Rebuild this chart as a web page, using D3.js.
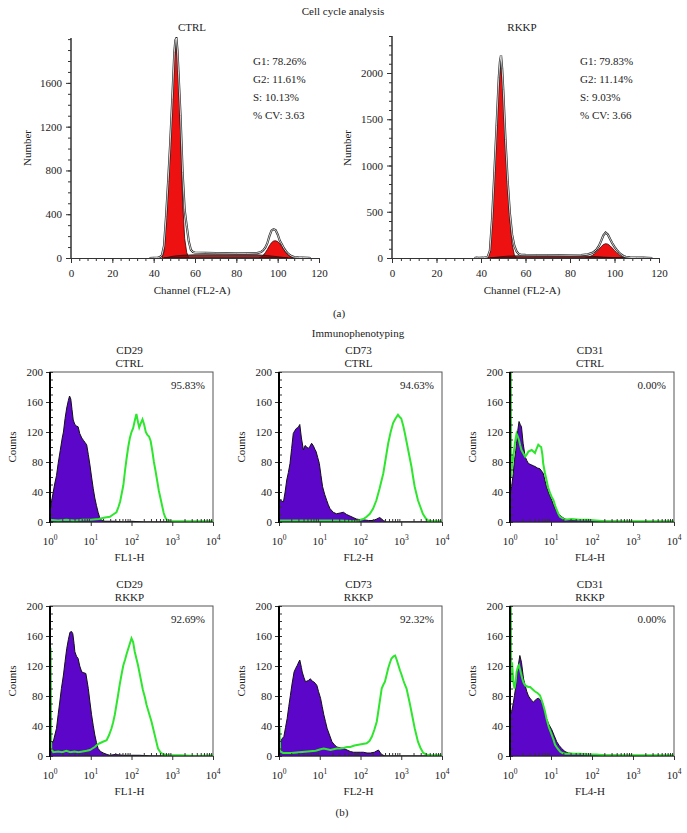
<!DOCTYPE html>
<html><head><meta charset="utf-8">
<script src="https://cdn.jsdelivr.net/npm/d3@7"></script>
<style>
body{margin:0;background:#fff}
svg{display:block}
text{font-family:"Liberation Serif","DejaVu Serif",serif;fill:#222}
</style>
</head><body>
<svg id="c" width="687" height="833"></svg>
<script>
// ---------------- Cell cycle data: [channel, count] ----------------
const ctrlHist = [[38,0],[40,2],[42,4],[43,8],[44,25],[45,110],[46,380],[47,700],[48,1050],[49,1450],[50,1880],[50.5,1990],[51,2010],[51.5,1900],[52,1700],[53,1300],[54,780],[55,440],[56,290],[57,150],[58,75],[59,55],[60,50],[65,47],[70,45],[75,44],[80,43],[85,42],[90,45],[92,55],[93,70],[94,95],[95,135],[96,200],[97,250],[98,263],[99,255],[100,215],[101,160],[102,125],[103,90],[104,62],[105,40],[106,25],[107,15],[108,8],[110,5],[112,4],[115,2],[116,0]];
const ctrlG1 = [[44,0],[45,60],[46,320],[47,640],[48,1000],[49,1420],[50,1820],[51,1990],[52,1720],[53,1150],[54,520],[55,180],[56,50],[57,0]];
const ctrlS = [[45,0],[50,18],[55,26],[60,30],[70,30],[80,30],[90,30],[95,22],[100,12],[105,0]];
const ctrlG2 = [[91,0],[92,10],[93,25],[94,48],[95,78],[96,112],[97,140],[98,155],[99,158],[100,150],[101,132],[102,106],[103,76],[104,50],[105,30],[106,15],[107,5],[108,0]];
const ctrlStats = ["G1: 78.26%","G2: 11.61%","S: 10.13%","% CV: 3.63"];

const rkkpHist = [[37,0],[38,4],[39,2],[41,3],[43,10],[44,80],[45,430],[46,920],[47,1430],[48,1950],[48.5,2120],[49,2190],[49.5,2050],[50,1820],[51,1280],[52,830],[53,480],[54,250],[55,130],[56,70],[57,42],[58,35],[60,33],[65,32],[70,32],[75,31],[80,30],[85,32],[88,40],[90,55],[91,70],[92,95],[93,130],[94,185],[95,245],[96,275],[97,255],[98,205],[99,160],[100,120],[101,88],[102,60],[103,38],[104,22],[105,12],[107,6],[110,4],[113,3],[115,2],[117,0]];
const rkkpG1 = [[43,0],[44,60],[45,420],[46,900],[47,1400],[48,1900],[49,2100],[50,1780],[51,1230],[52,780],[53,420],[54,150],[55,30],[56,0]];
const rkkpS = [[44,0],[48,12],[52,20],[56,24],[70,24],[85,24],[90,18],[95,10],[100,4],[104,0]];
const rkkpG2 = [[87,0],[88,6],[89,15],[90,28],[91,45],[92,68],[93,95],[94,122],[95,145],[96,155],[97,150],[98,132],[99,108],[100,82],[101,58],[102,36],[103,18],[104,6],[105,0]];
const rkkpStats = ["G1: 79.83%","G2: 11.14%","S: 9.03%","% CV: 3.66"];

const ctrlYTicks = [0,400,800,1200,1600];
const rkkpYTicks = [0,500,1000,1500,2000];
const channelTicks = [0,20,40,60,80,100,120];

// ---------------- Immunophenotyping data: [log10 fluorescence, counts] ----------------
const cd29CtrlIso = [[0,110],[0.01,18],[0.04,28],[0.08,40],[0.12,52],[0.16,62],[0.2,78],[0.25,95],[0.3,112],[0.33,120],[0.37,138],[0.41,152],[0.45,162],[0.48,168],[0.51,164],[0.54,150],[0.57,136],[0.61,130],[0.65,128],[0.69,127],[0.73,118],[0.78,112],[0.82,109],[0.86,106],[0.9,103],[0.94,90],[0.98,76],[1.02,60],[1.06,45],[1.1,32],[1.14,22],[1.18,13],[1.22,6],[1.27,2],[1.35,1],[1.6,1],[1.8,0],[2.0,1],[2.3,0],[4,0]];
const cd29CtrlAb = [[0,3],[0.2,2],[0.4,3],[0.6,2],[0.8,3],[1.0,3],[1.2,4],[1.35,6],[1.47,7],[1.55,10],[1.63,13],[1.68,20],[1.72,27],[1.76,38],[1.8,49],[1.84,68],[1.88,85],[1.92,100],[1.96,112],[2.0,120],[2.04,125],[2.08,135],[2.12,144],[2.16,133],[2.19,126],[2.23,132],[2.27,137],[2.31,130],[2.35,120],[2.39,116],[2.43,114],[2.47,108],[2.51,95],[2.55,80],[2.59,68],[2.63,55],[2.67,42],[2.71,32],[2.75,22],[2.79,12],[2.83,6],[2.87,3],[2.95,1],[3.2,1],[3.6,1],[4,1]];
const cd73CtrlIso = [[0,109],[0.01,31],[0.06,28],[0.11,27],[0.15,40],[0.19,56],[0.23,66],[0.27,78],[0.31,98],[0.35,118],[0.39,122],[0.43,125],[0.47,126],[0.51,130],[0.55,112],[0.6,96],[0.64,102],[0.68,100],[0.72,98],[0.76,101],[0.8,105],[0.84,102],[0.88,97],[0.91,94],[0.95,86],[0.99,78],[1.03,62],[1.07,47],[1.12,37],[1.17,29],[1.21,23],[1.25,18],[1.33,13],[1.41,11],[1.5,12],[1.58,13],[1.66,10],[1.74,8],[1.82,6],[1.9,4],[2.0,3],[2.07,3],[2.2,2],[2.31,2],[2.4,4],[2.47,6],[2.52,4],[2.56,2],[2.64,0],[4,0]];
const cd73CtrlAb = [[0,2],[0.5,2],[1.0,2],[1.5,2],[1.9,1],[2.0,3],[2.07,4],[2.15,7],[2.23,11],[2.31,18],[2.39,29],[2.47,45],[2.56,65],[2.62,85],[2.68,105],[2.74,120],[2.8,132],[2.86,138],[2.92,143],[2.96,140],[3.0,138],[3.05,128],[3.09,118],[3.13,107],[3.17,96],[3.21,85],[3.25,74],[3.29,60],[3.33,47],[3.37,38],[3.41,29],[3.47,20],[3.53,11],[3.6,5],[3.66,2],[3.78,1],[4,1]];
const cd31CtrlIso = [[0,183],[0.01,40],[0.04,47],[0.08,65],[0.11,83],[0.14,95],[0.16,105],[0.19,122],[0.22,134],[0.25,130],[0.28,127],[0.32,105],[0.37,87],[0.41,82],[0.45,78],[0.49,77],[0.53,76],[0.57,75],[0.61,74],[0.67,72],[0.73,71],[0.77,68],[0.81,65],[0.85,56],[0.89,47],[0.95,38],[1.02,29],[1.06,23],[1.1,18],[1.14,14],[1.18,11],[1.26,7],[1.34,4],[1.5,2],[1.7,3],[1.91,2],[2.1,2],[2.32,1],[2.6,1],[3,0],[4,0]];
const cd31CtrlAb = [[0,205],[0.02,205],[0.03,60],[0.05,75],[0.08,87],[0.12,105],[0.16,118],[0.19,114],[0.22,109],[0.25,102],[0.28,96],[0.32,92],[0.37,87],[0.41,90],[0.45,94],[0.49,95],[0.53,96],[0.57,94],[0.61,92],[0.65,98],[0.69,103],[0.73,101],[0.76,100],[0.79,90],[0.81,78],[0.85,66],[0.89,56],[0.93,46],[0.98,38],[1.02,33],[1.06,29],[1.1,22],[1.14,16],[1.18,11],[1.22,7],[1.28,5],[1.34,3],[1.5,4],[1.7,3],[1.91,3],[2.1,2],[2.32,1],[2.6,1],[3,1],[3.5,1],[4,1]];
const cd29RkkpIso = [[0,15],[0.04,17],[0.08,19],[0.12,28],[0.16,37],[0.2,55],[0.24,72],[0.28,90],[0.33,108],[0.37,126],[0.41,143],[0.45,155],[0.49,165],[0.53,166],[0.56,163],[0.59,150],[0.61,139],[0.65,133],[0.69,130],[0.73,120],[0.78,112],[0.83,111],[0.88,110],[0.91,100],[0.94,90],[0.98,72],[1.02,55],[1.06,41],[1.1,28],[1.14,18],[1.18,10],[1.24,6],[1.31,4],[1.4,2],[1.47,1],[1.6,2],[1.8,1],[2.0,1],[2.2,1],[2.5,0],[4,0]];
const cd29RkkpAb = [[0,143],[0.015,143],[0.03,10],[0.08,5],[0.2,6],[0.3,5],[0.4,7],[0.5,5],[0.6,6],[0.7,5],[0.8,6],[0.9,7],[0.98,8],[1.04,10],[1.1,12],[1.16,15],[1.22,17],[1.3,19],[1.39,21],[1.45,28],[1.51,37],[1.55,45],[1.59,55],[1.63,68],[1.67,81],[1.71,95],[1.76,110],[1.8,121],[1.84,128],[1.88,136],[1.92,143],[1.96,150],[2.0,157],[2.04,152],[2.08,139],[2.12,130],[2.16,121],[2.2,110],[2.24,99],[2.28,88],[2.33,78],[2.37,68],[2.43,57],[2.49,46],[2.53,37],[2.57,28],[2.61,19],[2.65,10],[2.71,5],[2.78,2],[2.94,1],[3.2,1],[3.6,0],[4,1]];
const cd73RkkpIso = [[0,110],[0.01,19],[0.06,22],[0.12,26],[0.16,38],[0.2,50],[0.24,66],[0.28,81],[0.32,96],[0.37,112],[0.41,117],[0.45,121],[0.49,126],[0.51,128],[0.55,118],[0.57,112],[0.61,105],[0.65,99],[0.69,100],[0.73,101],[0.77,103],[0.81,100],[0.85,99],[0.89,97],[0.93,94],[0.97,86],[1.02,77],[1.06,66],[1.1,55],[1.14,46],[1.18,37],[1.24,28],[1.3,19],[1.36,15],[1.42,12],[1.5,11],[1.59,10],[1.67,8],[1.75,6],[1.83,5],[1.91,5],[2.0,5],[2.07,5],[2.16,4],[2.24,4],[2.34,5],[2.44,8],[2.48,5],[2.52,2],[2.6,0],[4,0]];
const cd73RkkpAb = [[0,37],[0.015,37],[0.03,6],[0.1,4],[0.3,4],[0.5,5],[0.7,6],[0.9,7],[1.02,9],[1.1,10],[1.18,9],[1.26,8],[1.34,9],[1.42,10],[1.5,10],[1.6,11],[1.67,12],[1.75,12],[1.85,14],[1.95,15],[2.05,16],[2.15,17],[2.22,20],[2.28,26],[2.34,35],[2.4,46],[2.46,68],[2.52,90],[2.56,95],[2.6,99],[2.64,108],[2.68,117],[2.72,124],[2.76,130],[2.81,133],[2.85,134],[2.89,128],[2.93,121],[2.97,114],[3.01,108],[3.05,101],[3.09,95],[3.13,90],[3.17,80],[3.21,70],[3.25,59],[3.29,48],[3.33,37],[3.37,28],[3.41,19],[3.47,11],[3.54,4],[3.62,2],[3.7,1],[4,1]];
const cd31RkkpIso = [[0,130],[0.01,55],[0.05,62],[0.08,70],[0.11,81],[0.14,92],[0.16,103],[0.2,120],[0.24,134],[0.28,125],[0.33,103],[0.37,94],[0.41,86],[0.45,80],[0.49,77],[0.53,74],[0.57,72],[0.61,74],[0.65,76],[0.69,77],[0.74,75],[0.79,72],[0.84,60],[0.89,50],[0.95,42],[1.02,35],[1.08,27],[1.14,19],[1.2,14],[1.26,10],[1.34,6],[1.42,4],[1.6,3],[1.91,2],[2.1,2],[2.32,1],[2.6,1],[3,0],[4,0]];
const cd31RkkpAb = [[0,205],[0.02,205],[0.03,100],[0.05,125],[0.08,100],[0.11,90],[0.14,100],[0.16,112],[0.19,118],[0.22,121],[0.26,112],[0.3,103],[0.33,98],[0.37,94],[0.41,93],[0.45,92],[0.49,92],[0.53,90],[0.57,88],[0.61,86],[0.67,84],[0.73,81],[0.77,75],[0.81,68],[0.85,60],[0.89,50],[0.95,38],[1.02,28],[1.06,22],[1.1,15],[1.16,10],[1.22,6],[1.28,4],[1.34,3],[1.5,3],[1.7,3],[1.91,2],[2.1,2],[2.32,1],[2.6,1],[3,1],[3.5,1],[4,1]];

const countTicks = [0,40,80,120,160,200];
const decadeTicks = [1,10,100,1000,10000];

const svg = d3.select("#c");
let clipId = 0;
const FONT = "Liberation Serif";

function txt(x, y, s, size, anchor){
  return svg.append("text").attr("x",x).attr("y",y).attr("dy","0.35em")
    .attr("font-size",size).attr("text-anchor",anchor||"middle").text(s);
}
function styleAxis(a, size){
  a.selectAll(".tick line").attr("stroke","#333");
  a.selectAll("text").attr("font-size",size).attr("font-family",FONT).attr("fill","#222");
}

// ---------------- Cell cycle panel ----------------
function cellCycle(o){
  const x = d3.scaleLinear().domain([0,120]).range([o.x0,o.x1]);
  const y = d3.scaleLinear().domain([0,o.ymax]).range([o.y0,o.y1]);
  const id = "cl"+(clipId++);
  svg.append("clipPath").attr("id",id).append("rect")
    .attr("x",o.x0).attr("y",o.y1-1).attr("width",o.x1-o.x0).attr("height",o.y0-o.y1+1);
  const g = svg.append("g").attr("clip-path","url(#"+id+")");
  const area = d3.area().x(d=>x(d[0])).y0(y(0)).y1(d=>y(d[1]));
  const line = d3.line().x(d=>x(d[0])).y(d=>y(d[1]));
  g.append("path").datum(o.g1).attr("d",area).attr("fill","#ee1111").attr("stroke","#3a0000").attr("stroke-width",0.8);
  g.append("path").datum(o.g2).attr("d",area).attr("fill","#ee1111").attr("stroke","#3a0000").attr("stroke-width",0.8);
  g.append("path").datum(o.s).attr("d",area).attr("fill","#7a0a0a").attr("fill-opacity",0.85).attr("stroke","#111").attr("stroke-width",0.7);
  g.append("path").datum(o.hist).attr("d",line).attr("fill","none").attr("stroke","#222").attr("stroke-width",2.2);
  g.append("path").datum(o.hist).attr("d",line).attr("fill","none").attr("stroke","#fff").attr("stroke-width",0.8);

  const ay = svg.append("g").attr("transform","translate("+o.x0+",0)")
    .call(d3.axisLeft(y).tickValues(d3.range(0,o.ymax+1,100)).tickSize(3).tickFormat(""));
  const ay2 = svg.append("g").attr("transform","translate("+o.x0+",0)")
    .call(d3.axisLeft(y).tickValues(o.yticks).tickSize(5).tickPadding(4).tickFormat(d3.format("d")));
  [ay,ay2].forEach(a=>{a.select(".domain").attr("stroke","#333").attr("d","M0,"+o.y0+"V"+o.y1); styleAxis(a,11);});
  const ax = svg.append("g").attr("transform","translate(0,"+o.y0+")")
    .call(d3.axisBottom(x).tickValues(d3.range(0,121,4)).tickSize(3).tickFormat(""));
  const ax2 = svg.append("g").attr("transform","translate(0,"+o.y0+")")
    .call(d3.axisBottom(x).tickValues(channelTicks).tickSize(5).tickPadding(6).tickFormat(d3.format("d")));
  [ax,ax2].forEach(a=>{a.select(".domain").attr("stroke","#333"); styleAxis(a,11);});

  txt(o.titleX, 27, o.title, 11);
  txt(o.titleX, 290, "Channel (FL2-A)", 11);
  svg.append("text").attr("transform","translate("+o.labelX+",148) rotate(-90)")
    .attr("dy","0.35em").attr("font-size",11).attr("text-anchor","middle").text("Number");
  o.stats.forEach((s,i)=>txt(o.statX, 61+18*i, s, 11, "start"));
}

cellCycle({x0:71,x1:319,y0:258,y1:38,ymax:2010,yticks:ctrlYTicks,hist:ctrlHist,g1:ctrlG1,g2:ctrlG2,s:ctrlS,
  title:"CTRL",titleX:192,labelX:27,statX:253,stats:ctrlStats});
cellCycle({x0:392,x1:659,y0:258,y1:36,ymax:2400,yticks:rkkpYTicks,hist:rkkpHist,g1:rkkpG1,g2:rkkpG2,s:rkkpS,
  title:"RKKP",titleX:522,labelX:347,statX:580,stats:rkkpStats});

txt(343, 11, "Cell cycle analysis", 11);
txt(339, 313, "(a)", 11);
txt(358, 333, "Immunophenotyping", 11);
txt(342, 812, "(b)", 11);

// ---------------- Flow histogram panel ----------------
function flow(o){
  const x = d3.scaleLog().domain([1,1e4]).range([o.x0,o.x1]);
  const y = d3.scaleLinear().domain([0,200]).range([o.y0,o.y1]);
  const id = "cl"+(clipId++);
  svg.append("clipPath").attr("id",id).append("rect")
    .attr("x",o.x0).attr("y",o.y1).attr("width",o.x1-o.x0).attr("height",o.y0-o.y1);
  svg.append("rect").attr("x",o.x0).attr("y",o.y1).attr("width",o.x1-o.x0).attr("height",o.y0-o.y1)
    .attr("fill","none").attr("stroke","#555").attr("stroke-width",1);
  const g = svg.append("g").attr("clip-path","url(#"+id+")");
  const area = d3.area().x(d=>x(Math.pow(10,d[0]))).y0(y(0)).y1(d=>y(d[1]));
  const line = d3.line().x(d=>x(Math.pow(10,d[0]))).y(d=>y(d[1]));
  g.append("path").datum(o.iso).attr("d",area).attr("fill","#5c06c9");
  g.append("path").datum(o.iso).attr("d",line).attr("fill","none").attr("stroke","#111").attr("stroke-width",1);
  g.append("path").datum(o.ab).attr("d",line).attr("fill","none").attr("stroke","#2ee62e").attr("stroke-width",2);

  const minorY = svg.append("g").attr("transform","translate("+o.x0+",0)")
    .call(d3.axisRight(y).tickValues(d3.range(0,201,10)).tickSize(3).tickFormat(""));
  const majorY = svg.append("g").attr("transform","translate("+o.x0+",0)")
    .call(d3.axisLeft(y).tickValues(countTicks).tickSize(4).tickPadding(3));
  const minors = [];
  for (let d=0; d<4; d++) for (let m=2; m<=9; m++) minors.push(m*Math.pow(10,d));
  const minorX = svg.append("g").attr("transform","translate(0,"+o.y0+")")
    .call(d3.axisTop(x).tickValues(minors).tickSize(3).tickFormat(""));
  const majorX = svg.append("g").attr("transform","translate(0,"+o.y0+")")
    .call(d3.axisBottom(x).tickValues(decadeTicks).tickSize(4).tickFormat(""));
  [minorY,majorY,minorX,majorX].forEach(a=>{a.select(".domain").remove(); styleAxis(a,11);});
  svg.append("line").attr("x1",o.x0).attr("x2",o.x0).attr("y1",o.y0+1).attr("y2",o.y1)
    .attr("stroke","#000").attr("stroke-width",2);
  svg.append("line").attr("x1",o.x0).attr("x2",o.x1).attr("y1",o.y0).attr("y2",o.y0)
    .attr("stroke","#222").attr("stroke-width",1);
  decadeTicks.forEach((v,i)=>{
    const t = svg.append("text").attr("x",x(v)).attr("y",o.y0+23).attr("font-size",11).attr("text-anchor","middle");
    t.append("tspan").text("10");
    t.append("tspan").attr("dy",-5).attr("font-size",7.5).text(String(i));
  });
  const cx = (o.x0+o.x1)/2 - 2;
  txt(cx, o.y1-22, o.marker, 11);
  txt(cx, o.y1-9, o.group, 11);
  txt(o.x1-8, o.y1+13, o.pct, 11, "end");
  txt(cx, o.y0+35, o.channel, 11);
  svg.append("text").attr("transform","translate("+(o.x0-38)+","+((o.y0+o.y1)/2)+") rotate(-90)")
    .attr("dy","0.35em").attr("font-size",11).attr("text-anchor","middle").text("Counts");
}

const cols = [[50,213],[279,442],[510,674]];
const rows = [[522,372],[756,606]];
flow({x0:cols[0][0],x1:cols[0][1],y0:rows[0][0],y1:rows[0][1],iso:cd29CtrlIso,ab:cd29CtrlAb,marker:"CD29",group:"CTRL",pct:"95.83%",channel:"FL1-H"});
flow({x0:cols[1][0],x1:cols[1][1],y0:rows[0][0],y1:rows[0][1],iso:cd73CtrlIso,ab:cd73CtrlAb,marker:"CD73",group:"CTRL",pct:"94.63%",channel:"FL2-H"});
flow({x0:cols[2][0],x1:cols[2][1],y0:rows[0][0],y1:rows[0][1],iso:cd31CtrlIso,ab:cd31CtrlAb,marker:"CD31",group:"CTRL",pct:"0.00%",channel:"FL4-H"});
flow({x0:cols[0][0],x1:cols[0][1],y0:rows[1][0],y1:rows[1][1],iso:cd29RkkpIso,ab:cd29RkkpAb,marker:"CD29",group:"RKKP",pct:"92.69%",channel:"FL1-H"});
flow({x0:cols[1][0],x1:cols[1][1],y0:rows[1][0],y1:rows[1][1],iso:cd73RkkpIso,ab:cd73RkkpAb,marker:"CD73",group:"RKKP",pct:"92.32%",channel:"FL2-H"});
flow({x0:cols[2][0],x1:cols[2][1],y0:rows[1][0],y1:rows[1][1],iso:cd31RkkpIso,ab:cd31RkkpAb,marker:"CD31",group:"RKKP",pct:"0.00%",channel:"FL4-H"});
</script>
</body></html>
